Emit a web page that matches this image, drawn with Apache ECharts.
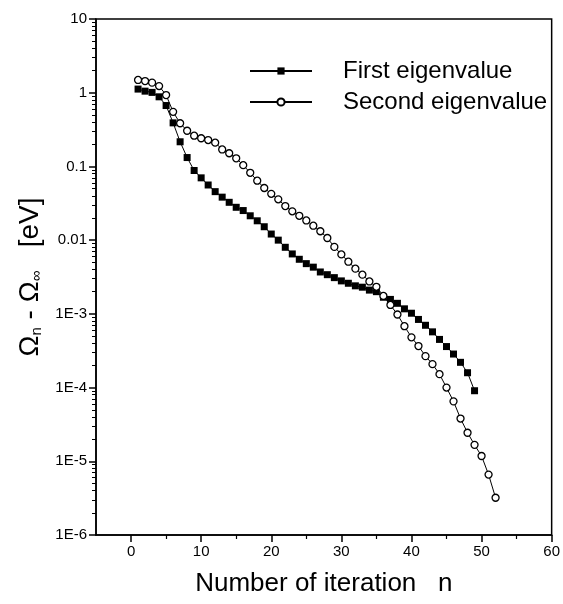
<!DOCTYPE html>
<html><head><meta charset="utf-8">
<script src="https://cdn.jsdelivr.net/npm/echarts@6/dist/echarts.min.js"></script>
<style>html,body{margin:0;padding:0;background:#fff}#c{width:563px;height:604px}</style>
</head><body><div id="c"></div>
<script>
const iterFirst = [1,2,3,4,5,6,7,8,9,10,11,12,13,14,15,16,17,18,19,20,21,22,23,24,25,26,27,28,29,30,31,32,33,34,35,36,37,38,39,40,41,42,43,44,45,46,47,48,49];
const firstEig = [1.12,1.05,1.01,0.88,0.67,0.39,0.216,0.132,0.088,0.070,0.056,0.0455,0.0383,0.0326,0.0279,0.0252,0.0214,0.0183,0.0152,0.0121,0.0100,0.0080,0.0065,0.0055,0.0048,0.0043,0.0037,0.0034,0.0031,0.0028,0.0026,0.0024,0.0023,0.0021,0.0020,0.00168,0.00157,0.00139,0.00117,0.00102,0.00084,0.00070,0.00057,0.00045,0.00036,0.000285,0.00022,0.000159,0.0000906];
const iterSecond = [1,2,3,4,5,6,7,8,9,10,11,12,13,14,15,16,17,18,19,20,21,22,23,24,25,26,27,28,29,30,31,32,33,34,35,36,37,38,39,40,41,42,43,44,45,46,47,48,49,50,51,52];
const secondEig = [1.49,1.44,1.37,1.23,0.93,0.55,0.385,0.305,0.261,0.241,0.228,0.21,0.17,0.151,0.129,0.104,0.082,0.064,0.051,0.0425,0.0358,0.029,0.0246,0.0214,0.0185,0.0157,0.0132,0.0107,0.0081,0.0064,0.0051,0.0041,0.0034,0.00275,0.00233,0.00175,0.00132,0.00098,0.00068,0.00048,0.000366,0.000267,0.000208,0.000152,0.0001,0.000065,0.000038,0.0000244,0.0000167,0.0000118,0.0000066,0.0000032];
const xMajorTicks = [0,10,20,30,40,50,60];
const xMinorTicks = [5,15,25,35,45,55];
const yMajorTicks = [1e-6,1e-5,1e-4,1e-3,1e-2,1e-1,1,10];
const yTickLabels = ['1E-6','1E-5','1E-4','1E-3','0.01','0.1','1','10'];
const yMinorTicks = [];
for (const d of [1e-6,1e-5,1e-4,1e-3,1e-2,1e-1,1]) for (const m of [2,3,4,5,6,7,8,9]) yMinorTicks.push(+(m*d).toPrecision(3));

const FONT = '"Liberation Sans", Arial, sans-serif';
const chart = echarts.init(document.getElementById('c'), null, {renderer:'canvas'});
const zip = (a,b)=>a.map((x,i)=>[x,b[i]]);
function yLabel(v){
  for (let i=0;i<yMajorTicks.length;i++) if (Math.abs(Math.log10(v)-Math.log10(yMajorTicks[i]))<1e-6) return yTickLabels[i];
  return '';
}
chart.setOption({
  animation:false,
  backgroundColor:'#fff',
  grid:{left:96,right:10,top:19,bottom:69,show:true,borderColor:'#000',borderWidth:1.5,backgroundColor:'transparent'},
  legend:{
    orient:'vertical', left:244, top:54, padding:5, itemWidth:62, itemHeight:9, itemGap:7,
    textStyle:{fontFamily:FONT,fontSize:24,color:'#000',lineHeight:24,padding:[0,0,0,26]},
    data:['First eigenvalue','Second eigenvalue']
  },
  xAxis:[{
    type:'value', min:-5, max:60, position:'bottom',
    name:'Number of iteration   n', nameLocation:'middle', nameGap:36,
    nameTextStyle:{fontFamily:FONT,fontSize:26,color:'#000'},
    axisLine:{onZero:false,lineStyle:{color:'#000',width:1.5}},
    axisTick:{customValues:xMajorTicks,length:7,lineStyle:{color:'#000',width:1.5}},
    axisLabel:{customValues:xMajorTicks,fontFamily:FONT,fontSize:15,color:'#000',margin:9},
    splitLine:{show:false}
  },{
    type:'value', min:-5, max:60, position:'bottom',
    axisLine:{show:false,onZero:false},
    axisTick:{customValues:xMinorTicks,length:4,lineStyle:{color:'#000',width:1.2}},
    axisLabel:{show:false}, splitLine:{show:false}
  }],
  yAxis:[{
    type:'log', logBase:10, min:1e-6, max:10, position:'left',
    name:'{a|Ω}{s|n}{a| - Ω}{s|∞}{a|   [eV]}', nameLocation:'middle', nameGap:49,
    nameTextStyle:{fontFamily:FONT,fontSize:28,color:'#000',
      rich:{a:{fontFamily:FONT,fontSize:28,color:'#000',lineHeight:28,verticalAlign:'bottom'},
            s:{fontFamily:FONT,fontSize:15,color:'#000',lineHeight:14,verticalAlign:'bottom'}}},
    axisLine:{onZero:false,lineStyle:{color:'#000',width:1.5}},
    axisTick:{customValues:yMajorTicks,length:7,lineStyle:{color:'#000',width:1.5}},
    axisLabel:{customValues:yMajorTicks,formatter:yLabel,fontFamily:FONT,fontSize:15,color:'#000',margin:9},
    splitLine:{show:false}
  },{
    type:'log', logBase:10, min:1e-6, max:10, position:'left',
    axisLine:{show:false,onZero:false},
    axisTick:{customValues:yMinorTicks,length:4,lineStyle:{color:'#000',width:1}},
    axisLabel:{show:false}, splitLine:{show:false}
  }],
  series:[{
    name:'First eigenvalue', type:'line', xAxisIndex:0, yAxisIndex:0,
    data:zip(iterFirst,firstEig), symbol:'rect', symbolSize:7,
    lineStyle:{color:'#000',width:1}, itemStyle:{color:'#000',borderColor:'#000',borderWidth:0}
  },{
    name:'Second eigenvalue', type:'line', xAxisIndex:0, yAxisIndex:0,
    data:zip(iterSecond,secondEig), symbol:'circle', symbolSize:7,
    lineStyle:{color:'#000',width:1}, itemStyle:{color:'#fff',borderColor:'#000',borderWidth:1.3}
  }]
});
</script></body></html>
